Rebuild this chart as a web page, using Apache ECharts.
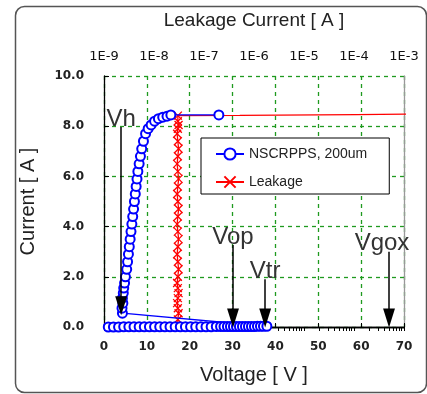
<!DOCTYPE html>
<html>
<head>
<meta charset="utf-8">
<script src="https://cdn.jsdelivr.net/npm/echarts@6/dist/echarts.min.js"></script>
<style>
  html, body { margin: 0; padding: 0; background: #fff; }
  #main { width: 427px; height: 394px; }
</style>
</head>
<body>
<div id="main"></div>
<script>
// TLP curve (NSCRPPS, 200um): voltage [V] / current [A]
var tlpVoltage = [1.0, 2.2, 3.4, 4.6, 5.8, 7.0, 8.2, 9.4, 10.6, 11.8, 13.0, 14.2, 15.4, 16.6, 17.8, 19.0,
                  20.2, 21.4, 22.6, 23.8, 25.0, 26.2, 27.2, 28.0, 28.8, 29.5, 30.2, 30.9, 31.6, 32.3,
                  33.0, 33.7, 34.4, 35.1, 35.8, 36.5, 37.2, 38.0,
                  4.3, 4.2, 4.4, 4.3, 4.5, 4.6, 4.8, 5.0, 5.3, 5.5, 5.7, 5.9, 6.1, 6.3, 6.5, 6.7,
                  6.9, 7.1, 7.3, 7.5, 7.7, 7.9, 8.2, 8.5, 8.8, 9.2, 9.7, 10.3, 11.0, 11.8, 12.7,
                  13.7, 14.7, 15.6, 26.8];
var tlpCurrent = [0.00, 0.00, 0.00, 0.01, 0.01, 0.01, 0.01, 0.01, 0.01, 0.01, 0.01, 0.01, 0.01, 0.01, 0.01, 0.01,
                  0.01, 0.01, 0.01, 0.01, 0.01, 0.02, 0.02, 0.02, 0.02, 0.02, 0.02, 0.02, 0.02, 0.02,
                  0.02, 0.02, 0.02, 0.02, 0.03, 0.03, 0.03, 0.03,
                  0.55, 0.75, 0.95, 1.15, 1.35, 1.55, 1.75, 2.0, 2.3, 2.6, 2.9, 3.2, 3.5, 3.8, 4.1, 4.4,
                  4.7, 5.0, 5.3, 5.6, 5.9, 6.2, 6.5, 6.8, 7.1, 7.4, 7.7, 7.9, 8.05, 8.2, 8.3,
                  8.36, 8.4, 8.45, 8.45];

// Leakage after each pulse [A] against pulse current [A]
var leakValue = [3.0e-8, 2.9e-8, 3.0e-8, 3.1e-8, 3.0e-8, 2.9e-8, 3.0e-8, 3.1e-8, 3.0e-8, 2.9e-8, 3.0e-8,
                 3.1e-8, 3.0e-8, 2.9e-8, 3.0e-8, 3.1e-8, 3.0e-8, 2.9e-8, 3.0e-8, 3.1e-8, 3.0e-8, 2.9e-8,
                 3.0e-8, 3.1e-8, 3.0e-8, 2.9e-8, 3.0e-8, 3.1e-8, 3.0e-8, 2.9e-8, 3.0e-8, 3.1e-8, 3.0e-8,
                 3.0e-8, 5.2e-7, 1.1e-4, 1.5e-3];
var leakCurrent = [0.0, 0.02, 0.3, 0.55, 0.75, 0.95, 1.15, 1.35, 1.55, 1.75, 2.0, 2.3, 2.6, 2.9, 3.2,
                   3.5, 3.8, 4.1, 4.4, 4.7, 5.0, 5.3, 5.6, 5.9, 6.2, 6.5, 6.8, 7.1, 7.4, 7.7, 7.9,
                   8.05, 8.2, 8.42, 8.43, 8.46, 8.48];

// annotation arrows
var arrowNames = ['Vh', 'Vop', 'Vtr', 'Vgox'];
var arrowX = [4.0, 30.1, 37.6, 66.5];
var arrowTop = [7.97, 3.27, 1.9, 3.0];
var arrowEnd = [0.85, 0.36, 0.36, 0.36];

var decadeTicks = [1e-9, 1e-8, 1e-7, 1e-6, 1e-5, 1e-4, 1e-3];
var minorTicks = [];
for (var e = -9; e < -3; e++) {
    for (var m = 1; m < 10; m++) minorTicks.push(parseFloat((m + 'e' + e)));
}
minorTicks.push(1e-3);

var tlpData = tlpVoltage.map(function (v, i) { return [v, tlpCurrent[i]]; });
var leakData = leakValue.map(function (v, i) {
    var item = { value: [v, leakCurrent[i]] };
    if (v > 1e-7) item.symbol = 'none';
    return item;
});

var arrowData = arrowNames.map(function (n, i) {
    var start = { name: n, coord: [arrowX[i], arrowTop[i]] };
    if (n === 'Vgox') start.label = { offset: [-7, 0] };
    return [start, { coord: [arrowX[i], arrowEnd[i]] }];
});

var gridLine = { show: true, lineStyle: { color: '#1f9a1f', type: [4, 4], width: 1.3 } };
var tickFont = { fontFamily: 'DejaVu Sans', fontSize: 12, fontWeight: 'bold', color: '#222' };
var nameFont = { fontFamily: 'Liberation Sans', fontSize: 20, color: '#222' };

var option = {
    animation: false,
    graphic: [{
        type: 'rect', left: 13, top: 4, z: -1,
        shape: { width: 411, height: 386, r: 9 },
        style: { fill: 'none', stroke: '#555', lineWidth: 1.5 }
    }],
    grid: { left: 104, right: 23, top: 76, bottom: 67 },
    legend: {
        orient: 'vertical',
        left: 201, top: 138,
        padding: [9, 22, 5, 14],
        itemWidth: 28, itemHeight: 14, itemGap: 14,
        backgroundColor: '#fff',
        borderColor: '#000', borderWidth: 1,
        textStyle: { fontFamily: 'Liberation Sans', fontSize: 14, color: '#222' },
        data: ['NSCRPPS, 200um', 'Leakage']
    },
    xAxis: [{
        type: 'value', position: 'bottom',
        min: 0, max: 70, interval: 10,
        name: 'Voltage [ V ]', nameLocation: 'middle', nameGap: 38,
        nameTextStyle: nameFont,
        axisLine: { lineStyle: { color: '#000', width: 1.3 } },
        axisTick: { show: true, inside: true, length: 4, lineStyle: { color: '#000' } },
        axisLabel: Object.assign({ margin: 14 }, tickFont),
        splitLine: gridLine
    }, {
        type: 'log', position: 'top', logBase: 10,
        min: 1e-9, max: 1e-3,
        name: 'Leakage Current [ A ]', nameLocation: 'middle', nameGap: 46,
        nameTextStyle: Object.assign({}, nameFont, { fontSize: 19 }),
        axisLine: { lineStyle: { color: '#000', width: 1.3 } },
        axisTick: { show: true, inside: true, length: 4, customValues: minorTicks, lineStyle: { color: '#000' } },
        axisLabel: Object.assign({}, tickFont, {
            margin: 13, fontSize: 13, fontWeight: 'normal', color: '#111',
            customValues: decadeTicks,
            formatter: function (v) { return '1E-' + Math.abs(Math.round(Math.log10(v))); }
        }),
        splitLine: { show: false }
    }],
    yAxis: [{
        type: 'value', position: 'left',
        min: 0, max: 10, interval: 2,
        name: 'Current [ A ]', nameLocation: 'middle', nameGap: 66,
        nameTextStyle: nameFont,
        axisLine: { show: true, lineStyle: { color: '#000', width: 1.3 } },
        axisTick: { show: true, inside: true, length: 5, lineStyle: { color: '#000' } },
        axisLabel: Object.assign({ margin: 20, formatter: function (v) { return v.toFixed(1); } }, tickFont),
        splitLine: gridLine
    }, {
        type: 'value', position: 'right',
        min: 0, max: 10, interval: 2,
        axisLine: { show: true, lineStyle: { color: '#999', width: 1.3 } },
        axisTick: { show: false }, axisLabel: { show: false }, splitLine: { show: false }
    }],
    series: [{
        name: 'NSCRPPS, 200um',
        type: 'line',
        xAxisIndex: 0, yAxisIndex: 0,
        data: tlpData,
        symbol: 'emptyCircle', symbolSize: 9,
        color: '#0000ff',
        itemStyle: { color: '#0000ff', borderWidth: 1.3 },
        lineStyle: { color: '#0000ff', width: 1.3 },
        z: 3,
        markLine: {
            silent: true,
            symbol: ['none', 'path://M8,0L13,16L3,16ZM0,0M16,16'],
            symbolSize: 19,
            lineStyle: { color: '#000', width: 1.5, type: 'solid' },
            itemStyle: { color: '#000' },
            label: {
                show: true, position: 'start', distance: -4,
                formatter: '{b}',
                fontFamily: 'Liberation Sans', fontSize: 24, color: '#333'
            },
            data: arrowData
        }
    }, {
        name: 'Leakage',
        type: 'line',
        xAxisIndex: 1, yAxisIndex: 0,
        data: leakData,
        symbol: 'path://M0,0L10,10M10,0L0,10', symbolSize: 8,
        color: '#ff0000',
        itemStyle: { color: '#ff0000', borderColor: '#ff0000', borderWidth: 1.3 },
        lineStyle: { color: '#ff0000', width: 1.3 },
        z: 2
    }]
};

var myChart = echarts.init(document.getElementById('main'));
myChart.setOption(option);
</script>
</body>
</html>
